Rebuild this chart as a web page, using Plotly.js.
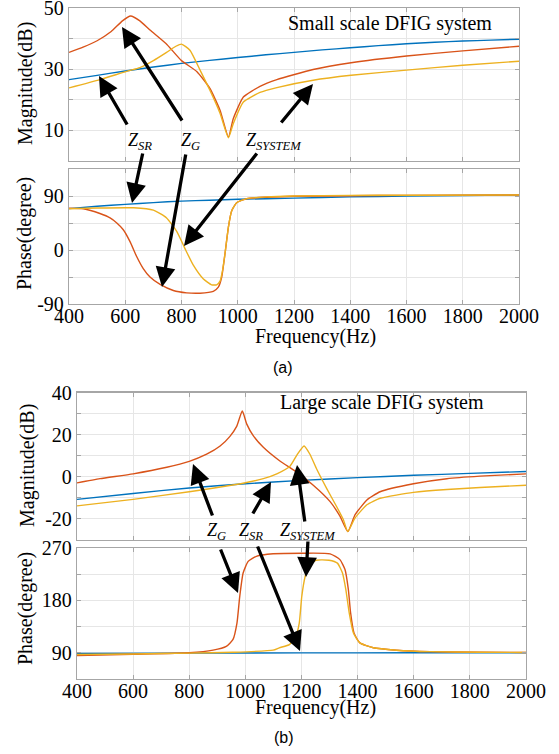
<!DOCTYPE html>
<html>
<head>
<meta charset="utf-8">
<script src="https://cdn.plot.ly/plotly-3.0.1.min.js"></script>
<style>html,body{margin:0;padding:0;background:#fff}#chart{width:559px;height:754px}</style>
</head>
<body>
<div id="chart"></div>
<script>
// ---------- Panel (a): small scale DFIG system ----------
const aMagSR_f   = [400,500,600,700,800,900,1000,1100,1200,1300,1400,1500,1600,1700,1800,1900,2000];
const aMagSR_v   = [26.6,28.0,29.4,30.7,31.9,32.9,33.8,34.7,35.5,36.3,37.0,37.7,38.3,38.8,39.2,39.5,39.8];
const aMagG_f    = [400,450,500,550,590,619,652,688,748,800,855,901,937,967,984,1020,1079,1139,1268,1403,1600,1800,2000];
const aMagG_v    = [35.5,37.2,39.3,42.3,45.8,47.4,45.8,42.8,38.1,32.8,29.2,23.7,16.6,7.8,13.8,20.9,24.4,26.6,29.9,32.1,34.3,36.0,37.5];
const aMagSYS_f  = [400,510,605,652,700,747,780,800,830,866,901,937,967,984,1020,1079,1139,1268,1403,1600,1800,2000];
const aMagSYS_v  = [23.9,26.6,29.3,30.5,32.8,35.5,37.5,38.2,36.2,29.7,23.1,15.6,7.6,12.2,19.3,22.4,24.0,26.4,28.0,29.7,31.3,32.6];

const aPhSR_f    = [400,500,600,700,800,900,1000,1200,1400,1600,1800,2000];
const aPhSR_v    = [69,73,76,79,81.5,83,84.5,86.5,88.5,89.8,90.8,91.5];
const aPhG_f     = [400,451,510,546,570,593,617,641,664,688,724,771,818,866,913,931,943,955,967,978,996,1032,1103,1200,1400,1600,2000];
const aPhG_v     = [69.8,68.7,60.8,53.5,45,33.8,14,-11.3,-31,-45,-57.4,-67.5,-71.4,-72,-69,-62,-45,-5,39,64.7,78.8,85.6,88,89.5,90.5,91,91.7];
const aPhSYS_f   = [400,500,630,700,747,783,812,842,877,907,925,937,946,955,967,978,996,1032,1103,1200,1400,1600,2000];
const aPhSYS_v   = [68.7,70,70.3,66.4,53.5,31,2.8,-25.3,-47.8,-58,-58,-52,-34,-5,39,64.7,78.8,85.6,88.5,90,91,91.3,91.7];

// ---------- Panel (b): large scale DFIG system ----------
const bMagSR_f   = [400,600,800,1000,1200,1400,1600,1800,2000];
const bMagSR_v   = [-10.7,-7.9,-5.3,-3.3,-1.7,-0.4,0.7,1.6,2.5];
const bMagG_f    = [400,482,600,720,800,862,910,945,969,989,1005,1028,1064,1123,1183,1242,1302,1337,1365,1391,1433,1480,1599,1718,1836,2000];
const bMagG_v    = [-2.9,-0.9,1.4,4.5,7.3,10.7,14.6,19.2,23.9,31.2,25.0,19.5,14.0,7.5,2.2,-4,-11.8,-18.7,-26,-18,-11,-7.1,-3.3,-0.9,0.3,1.4];
const bMagSYS_f  = [400,600,800,900,1000,1064,1112,1159,1183,1209,1230,1254,1290,1325,1349,1365,1391,1433,1480,1599,1718,1836,2000];
const bMagSYS_v  = [-13.8,-10.7,-7.1,-5.1,-2.8,-0.9,1.4,5,10.2,14.6,10.7,3.7,-5.6,-14.1,-20.3,-26,-19.5,-13.3,-10.2,-7.4,-6,-5.1,-4];

const bPhSR_f    = [400,800,1200,1600,2000];
const bPhSR_v    = [89,89.5,89.8,90,90];
const bPhG_f     = [400,600,800,885,932,956,970,980,992,1010,1039,1099,1200,1302,1337,1355,1367,1375,1387,1408,1456,1539,1658,1836,2000];
const bPhG_v     = [85.4,87.6,90,94.5,101,113,141,187,227,247,255.6,260,261,260,250,233,198.5,158.6,124,107,98.6,94.5,92,91,90.5];
const bPhSYS_f   = [400,600,800,956,1099,1121,1157,1180,1192,1201,1213,1227,1251,1298,1328,1346,1358,1370,1385,1408,1456,1539,1658,1836,2000];
const bPhSYS_v   = [87,88,89.5,91,94.5,98.6,104,118.5,141,187,221,241,249,249,244,227,198.5,158.6,124,107,98.6,94.5,92,91,90.5];

const freqTicks  = [400,600,800,1000,1200,1400,1600,1800,2000];
const aMagTicks  = [0,10,20,30,40,50];
const aMagLabels = ['','10','','30','','50'];
const aPhTicks   = [-90,-45,0,45,90,135];
const aPhLabels  = ['-90','','0','','90',''];
const bMagTicks  = [-30,-20,-10,0,10,20,30,40];
const bMagLabels = ['','-20','','0','','20','','40'];
const bPhTicks   = [45,90,135,180,225,270];
const bPhLabels  = ['','90','','180','','270'];

const C_SR = '#0072BD', C_G = '#D95319', C_SYS = '#EDB120';
const W = 559, H = 754;
const px = x => x / W, py = y => 1 - y / H;

function tr(f, v, color, xa, ya) {
  return {x: f, y: v, type: 'scatter', mode: 'lines', xaxis: xa, yaxis: ya,
          line: {color: color, width: 1.4, shape: 'spline', smoothing: 0.5},
          showlegend: false, hoverinfo: 'skip'};
}
const data = [
  tr(aMagSR_f, aMagSR_v, C_SR, 'x', 'y'),
  tr(aMagG_f, aMagG_v, C_G, 'x', 'y'),
  tr(aMagSYS_f, aMagSYS_v, C_SYS, 'x', 'y'),
  tr(aPhSR_f, aPhSR_v, C_SR, 'x2', 'y2'),
  tr(aPhG_f, aPhG_v, C_G, 'x2', 'y2'),
  tr(aPhSYS_f, aPhSYS_v, C_SYS, 'x2', 'y2'),
  tr(bMagSR_f, bMagSR_v, C_SR, 'x3', 'y3'),
  tr(bMagG_f, bMagG_v, C_G, 'x3', 'y3'),
  tr(bMagSYS_f, bMagSYS_v, C_SYS, 'x3', 'y3'),
  tr(bPhSR_f, bPhSR_v, C_SR, 'x4', 'y4'),
  tr(bPhG_f, bPhG_v, C_G, 'x4', 'y4'),
  tr(bPhSYS_f, bPhSYS_v, C_SYS, 'x4', 'y4')
];

const serif = 'Liberation Serif, Times New Roman, serif';
const tickFont = {family: serif, size: 20, color: '#000'};
const common = {showline: true, mirror: 'ticks', linecolor: '#a6a6a6', linewidth: 1.2,
  ticks: 'inside', ticklen: 4, tickcolor: '#a6a6a6', tickwidth: 1,
  showgrid: true, gridcolor: '#e6e6e6', gridwidth: 1, zeroline: false,
  tickfont: tickFont, fixedrange: true, ticklabeloverflow: 'allow'};
function xax(domain, anchor, labels) {
  return Object.assign({}, common, {domain: domain, anchor: anchor, range: [400, 2000],
    tickmode: 'array', tickvals: freqTicks, ticktext: freqTicks.map(String), showticklabels: labels,
    ticklabelstandoff: -6});
}
function yax(domain, anchor, range, vals, text) {
  return Object.assign({}, common, {domain: domain, anchor: anchor, range: range,
    tickmode: 'array', tickvals: vals, ticktext: text});
}

function label(x, y, text, size, extra) {
  return Object.assign({xref: 'paper', yref: 'paper', x: px(x), y: py(y), text: text,
    showarrow: false, xanchor: 'center', yanchor: 'middle',
    font: {family: serif, size: size, color: '#000'}}, extra || {});
}
function arrow(hx, hy, tx, ty) {
  return {xref: 'paper', yref: 'paper', x: px(hx), y: py(hy), ax: tx - hx, ay: ty - hy,
    text: '', showarrow: true, arrowhead: 2, arrowsize: 1.2, arrowwidth: 3.3,
    arrowcolor: '#000', standoff: 0, startstandoff: 0};
}

const annotations = [
  label(390, 23, 'Small scale DFIG system', 20),
  label(382, 403, 'Large scale DFIG system', 20),
  label(25, 84, 'Magnitude(dB)', 20, {textangle: -90}),
  label(25, 234, 'Phase(degree)', 20, {textangle: -90}),
  label(27, 466, 'Magnitude(dB)', 20, {textangle: -90}),
  label(25, 609, 'Phase(degree)', 20, {textangle: -90}),
  label(315, 336, 'Frequency(Hz)', 20),
  label(315, 707, 'Frequency(Hz)', 20),
  label(283, 368, '(a)', 16, {font: {family: 'Liberation Sans, Arial, sans-serif', size: 16, color: '#000'}}),
  label(284, 737, '(b)', 16, {font: {family: 'Liberation Sans, Arial, sans-serif', size: 16, color: '#000'}}),
  label(140, 141, '<i>Z<sub>SR</sub></i>', 18),
  label(190, 141, '<i>Z<sub>G</sub></i>', 18),
  label(274, 141, '<i>Z<sub>SYSTEM</sub></i>', 18),
  label(216, 531, '<i>Z<sub>G</sub></i>', 18),
  label(251, 531, '<i>Z<sub>SR</sub></i>', 18),
  label(308, 531, '<i>Z<sub>SYSTEM</sub></i>', 18),
  arrow(99, 76, 128, 126),
  arrow(122, 27, 183, 122),
  arrow(313, 84, 280, 124),
  arrow(132, 203, 143, 152),
  arrow(162, 287, 186, 153),
  arrow(184, 246, 258, 152),
  arrow(193, 464, 213, 517),
  arrow(271, 482, 252, 515),
  arrow(297, 465, 305, 523),
  arrow(238, 593, 220, 548),
  arrow(300, 651, 257, 545),
  arrow(306, 577, 308, 540)
];

const layout = {
  width: W, height: H, margin: {l: 0, r: 0, t: 0, b: 0},
  paper_bgcolor: '#fff', plot_bgcolor: '#fff', showlegend: false,
  xaxis:  xax([px(69), px(519)], 'y', false),
  yaxis:  yax([py(161), py(8)], 'x', [0, 50], aMagTicks, aMagLabels),
  xaxis2: xax([px(69), px(519)], 'y2', true),
  yaxis2: yax([py(304), py(169)], 'x2', [-90, 135], aPhTicks, aPhLabels),
  xaxis3: xax([px(77), px(526)], 'y3', false),
  yaxis3: yax([py(540), py(392.5)], 'x3', [-30, 40], bMagTicks, bMagLabels),
  xaxis4: xax([px(77), px(526)], 'y4', true),
  yaxis4: yax([py(679), py(548)], 'x4', [45, 270], bPhTicks, bPhLabels),
  annotations: annotations
};

Plotly.newPlot('chart', data, layout, {displayModeBar: false, staticPlot: true});
</script>
</body>
</html>
